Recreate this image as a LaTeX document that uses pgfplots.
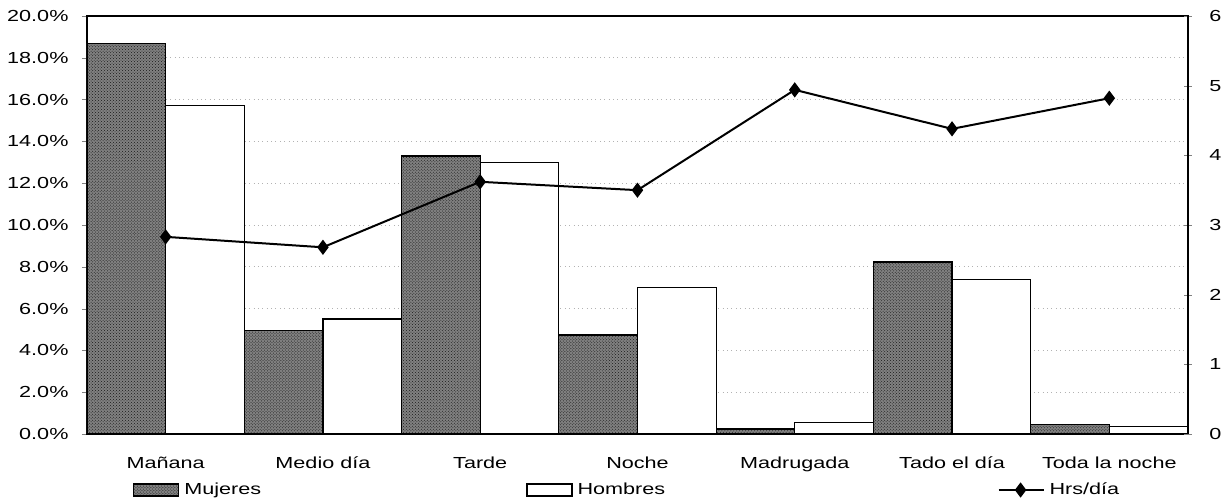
\documentclass[border=0pt]{standalone}
\usepackage{fontspec}
\setmainfont{Liberation Sans}[FakeStretch=1.35]
\usepackage{pgfplots}
\pgfplotsset{compat=1.18}
\usetikzlibrary{patterns}

\pgfplotsset{
  boxlegend/.style={legend image code/.code={\draw[##1] (0bp,-6bp) rectangle (45bp,6bp);}},
  linelegend/.style={legend image code/.code={\draw[##1, sharp plot, mark repeat=2, mark phase=2] plot coordinates {(0bp,0bp) (22bp,0bp) (45bp,0bp)};}},
}

\pgfplotstableread{
x M H
0 18.7 15.7
1 4.94 5.5
2 13.3 13.0
3 4.74 7.0
4 0.24 0.56
5 8.23 7.4
6 0.46 0.37
}\bars
\pgfplotstableread{
x h
0 2.83
1 2.68
2 3.62
3 3.50
4 4.94
5 4.38
6 4.82
}\hrs

\begin{document}
\fontsize{16bp}{19bp}\selectfont
\begin{tikzpicture}
\begin{axis}[
  at={(0,0)}, anchor=south west,
  scale only axis, width=1101bp, height=418bp,
  xmin=-0.5, xmax=6.5, ymin=0, ymax=20,
  ybar=0pt, bar width=0.5,
  xtick=data,
  xticklabels={Mañana, Medio día, Tarde, Noche, Madrugada, Tado el día, Toda la noche},
  xtick style={draw=none},
  xticklabel style={yshift=-12bp},
  ytick={0,2,...,20},
  yticklabel={\pgfmathprintnumber[fixed,fixed zerofill,precision=1]{\tick}\%},
  /pgf/number format/assume math mode=true,
  yticklabel style={xshift=-8bp},
  ytick pos=left, tick align=outside, major tick length=5bp,
  axis line style={line width=1.3bp},
  ymajorgrids, grid style={loosely dotted, black!30, line width=0.6bp},
  every tick label/.append style={font=\fontsize{16bp}{19bp}\selectfont},
  legend style={at={(axis description cs:0.0418,-0.134)}, anchor=west, draw=none,
    inner sep=0pt, fill=none, font=\fontsize{16bp}{19bp}\selectfont,
    /tikz/every odd column/.append style={column sep=3bp}},
  legend columns=3,
]
\addplot[draw=black, line width=1.2bp, fill=black!50,
  postaction={pattern=crosshatch dots, pattern color=black!90}, boxlegend]
  table[x=x,y=M]{\bars};
\addlegendentry{\makebox[340bp][l]{Mujeres}}
\addplot[draw=black, line width=1.2bp, fill=white, boxlegend]
  table[x=x,y=H]{\bars};
\addlegendentry{\makebox[418bp][l]{Hombres}}
\addlegendimage{black, line width=2bp, mark=diamond*, mark size=6bp, linelegend}
\addlegendentry{Hrs/día}
\end{axis}
\begin{axis}[
  at={(0,0)}, anchor=south west,
  scale only axis, width=1101bp, height=418bp,
  xmin=-0.5, xmax=6.5, ymin=0, ymax=6,
  axis x line=none, axis y line*=right,
  ytick={0,...,6},
  /pgf/number format/assume math mode=true,
  yticklabel style={xshift=12bp},
  tick align=center, major tick length=8bp,
  axis line style={line width=1.3bp},
  every tick label/.append style={font=\fontsize{16bp}{19bp}\selectfont},
]
\addplot[black, line width=2bp, mark=diamond*, mark size=6bp] table[x=x,y=h]{\hrs};
\end{axis}
\pgfresetboundingbox
\path[use as bounding box] (-87bp,-67bp) rectangle (1142bp,434bp);
\end{tikzpicture}
\end{document}
